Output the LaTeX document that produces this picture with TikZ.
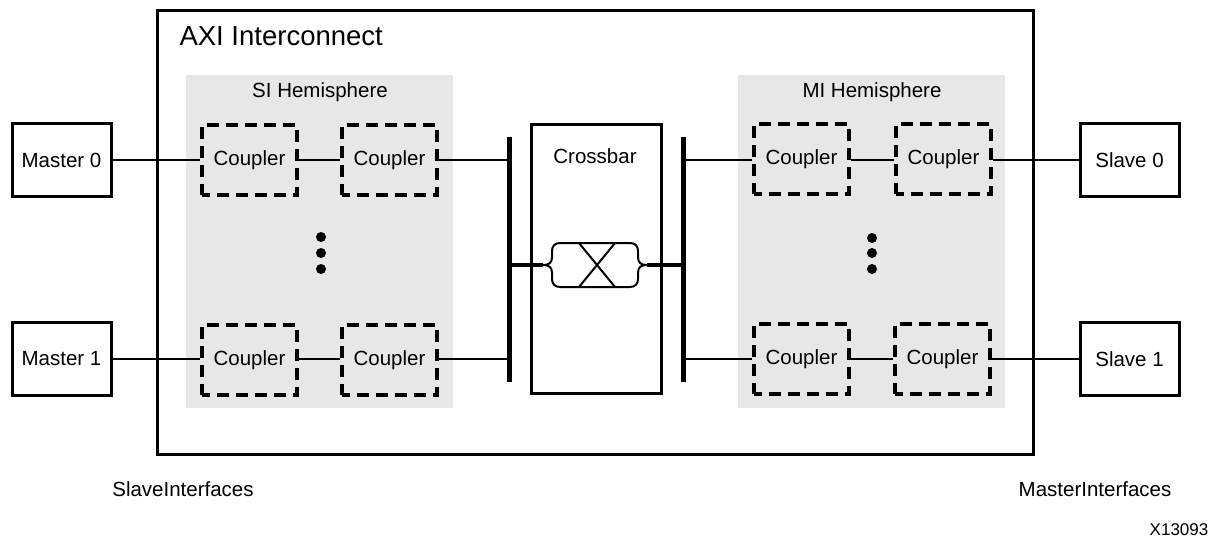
\documentclass[tikz,border=0pt]{standalone}
\usepackage{fontspec}
\setmainfont{Liberation Sans}
\definecolor{hemi}{HTML}{E6E7E8}
\begin{document}
\begin{tikzpicture}[x=1pt,y=-1pt,
  lbl/.style={font=\fontsize{20.5}{24}\selectfont},
  endbox/.style={draw,line width=3pt,minimum width=99pt,minimum height=73pt,inner sep=0pt,lbl},
  coupler/.style={draw,line width=3.4pt,dash pattern=on 12pt off 7pt,dash phase=4pt,minimum width=95pt,minimum height=70pt,inner sep=0pt,lbl},
  hemi/.style={fill=hemi,draw=none,inner sep=0pt},
  link/.style={line width=2pt},
  bus/.style={line width=5pt},
  dot/.style={circle,fill=black,inner sep=0pt,minimum size=10pt}
]
\useasboundingbox (0,0) rectangle (1214,538);
% outer box
\node[draw,line width=3pt,minimum width=876pt,minimum height=444pt,inner sep=0pt] (axi) at (595,232) {};
\node[anchor=west,font=\fontsize{27.5}{33}\selectfont] (axititle) at (176,36) {AXI Interconnect};
% hemispheres
\node[hemi,minimum width=267pt,minimum height=333pt] (si) at (319.5,241.5) {};
\node[hemi,minimum width=267pt,minimum height=333pt] (mi) at (871.5,241.5) {};
\node[lbl] (sit) at (320,92) {SI Hemisphere};
\node[lbl] (mit) at (872,92) {MI Hemisphere};
% masters / slaves
\node[endbox] (m0) at (61.5,160) {Master 0};
\node[endbox] (m1) at (61.5,359) {Master 1};
\node[endbox] (s0) at (1129.5,160) {Slave 0};
\node[endbox] (s1) at (1129.5,359) {Slave 1};
% couplers
\node[coupler] (sc00) at (249.5,160) {Coupler};
\node[coupler] (sc01) at (389.5,160) {Coupler};
\node[coupler] (sc10) at (249.5,360) {Coupler};
\node[coupler] (sc11) at (389.5,360) {Coupler};
\node[coupler] (mc00) at (801.5,159) {Coupler};
\node[coupler] (mc01) at (943.5,159) {Coupler};
\node[coupler] (mc10) at (801.5,359) {Coupler};
\node[coupler] (mc11) at (942.5,359) {Coupler};
% dots
\node[dot] (sd1) at (321,237) {};
\node[dot] (sd2) at (321,253) {};
\node[dot] (sd3) at (321,269) {};
\node[dot] (md1) at (872,238) {};
\node[dot] (md2) at (872,253) {};
\node[dot] (md3) at (872,269) {};
% crossbar
\node[draw,line width=3pt,minimum width=130pt,minimum height=269pt,inner sep=0pt] (xbar) at (596,258.5) {};
\node[lbl] (xbart) at (595,156) {Crossbar};
% bus bars
\coordinate (lbt) at (509,137);
\coordinate (lbb) at (509,382);
\coordinate (rbt) at (683,137);
\coordinate (rbb) at (683,382);
\draw[bus] (lbt) -- (lbb);
\draw[bus] (rbt) -- (rbb);
\coordinate (lb0) at (509,160);
\coordinate (lb1) at (509,359);
\coordinate (lbm) at (509,265);
\coordinate (rb0) at (683,160);
\coordinate (rb1) at (683,359);
\coordinate (rbm) at (683,265);
% crossbar switch symbol
\coordinate (swl) at (543,265);
\coordinate (swr) at (647,265);
\draw[line width=2pt]
  (560,243) -- (630,243) .. controls (635,243) and (638,246) .. (638,251)
  -- (638,257) .. controls (638,263) and (641,265) .. (swr)
  .. controls (641,265) and (638,267) .. (638,273)
  -- (638,279) .. controls (638,284) and (635,287) .. (630,287)
  -- (560,287) .. controls (555,287) and (552,284) .. (552,279)
  -- (552,273) .. controls (552,267) and (549,265) .. (swl)
  .. controls (549,265) and (552,263) .. (552,257)
  -- (552,251) .. controls (552,246) and (555,243) .. (560,243) -- cycle;
\draw[line width=2pt] (579,243) -- (615,287);
\draw[line width=2pt] (615,243) -- (579,287);
\draw[line width=4pt] (lbm) -- (swl);
\draw[line width=4pt] (swr) -- (rbm);
% links
\draw[link] (m0.east) -- (sc00.west |- m0.east);
\draw[link] (sc00.east |- m0.east) -- (sc01.west |- m0.east);
\draw[link] (sc01.east |- lb0) -- (lb0);
\draw[link] (m1.east) -- (sc10.west |- m1.east);
\draw[link] (sc10.east |- m1.east) -- (sc11.west |- m1.east);
\draw[link] (sc11.east |- lb1) -- (lb1);
\draw[link] (rb0) -- (mc00.west |- rb0);
\draw[link] (mc00.east |- rb0) -- (mc01.west |- rb0);
\draw[link] (mc01.east |- rb0) -- (s0.west |- rb0);
\draw[link] (rb1) -- (mc10.west |- rb1);
\draw[link] (mc10.east |- rb1) -- (mc11.west |- rb1);
\draw[link] (mc11.east |- rb1) -- (s1.west |- rb1);
% bottom texts
\node[lbl] (slif) at (183,489) {SlaveInterfaces};
\node[lbl] (maif) at (1095,489) {MasterInterfaces};
\node[font=\fontsize{17}{20}\selectfont] (xid) at (1179,530) {X13093};
\end{tikzpicture}
\end{document}
